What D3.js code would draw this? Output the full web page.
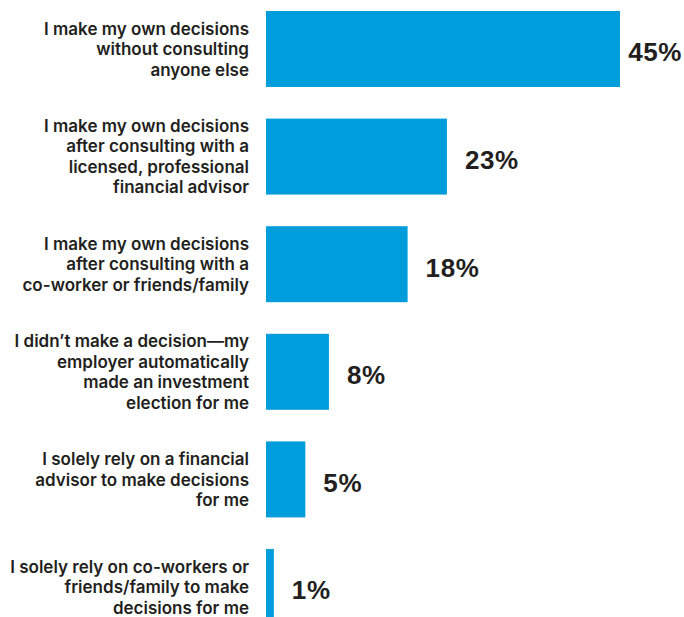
<!DOCTYPE html>
<html>
<head>
<meta charset="utf-8">
<script src="https://cdn.jsdelivr.net/npm/d3@7"></script>
<style>
  html, body { margin: 0; padding: 0; background: #fff; }
  svg { display: block; }
</style>
</head>
<body>
<svg id="chart" width="684" height="617"></svg>
<script>
// How respondents make investment decisions
const categories = [
  ["I make my own decisions", "without consulting", "anyone else"],
  ["I make my own decisions", "after consulting with a", "licensed, professional", "financial advisor"],
  ["I make my own decisions", "after consulting with a", "co-worker or friends/family"],
  ["I didn\u2019t make a decision\u2014my", "employer automatically", "made an investment", "election for me"],
  ["I solely rely on a financial", "advisor to make decisions", "for me"],
  ["I solely rely on co-workers or", "friends/family to make", "decisions for me"]
];
const values = [45, 23, 18, 8, 5, 1];
const valueLabels = ["45%", "23%", "18%", "8%", "5%", "1%"];

const W = 684, H = 617;
const barLeft = 266, labelRight = 249;
const svg = d3.select("#chart");

const x = d3.scaleLinear().domain([0, 45]).range([barLeft, 620]);
const y = d3.scaleBand()
  .domain(d3.range(categories.length))
  .range([11, 625])
  .paddingInner(0.294)
  .paddingOuter(0);

const rows = svg.selectAll("g.row")
  .data(values)
  .join("g")
  .attr("class", "row");

rows.append("rect")
  .attr("x", x(0))
  .attr("y", (d, i) => y(i))
  .attr("width", d => x(d) - x(0))
  .attr("height", y.bandwidth())
  .attr("fill", "#009ddc");

// Category labels, right-aligned and centred on each bar
const lineH = 20.5;
rows.append("text")
  .attr("text-anchor", "end")
  .attr("font-family", "Inter, 'Noto Sans', sans-serif")
  .attr("font-weight", 600)
  .attr("font-size", "17px")
  .attr("fill", "#231f20")
  .each(function(d, i) {
    const lines = categories[i];
    const cy = y(i) + y.bandwidth() / 2;
    const top = cy - (lines.length - 1) * lineH / 2;
    d3.select(this).selectAll("tspan")
      .data(lines)
      .join("tspan")
      .attr("x", labelRight)
      .attr("y", (l, k) => top + k * lineH)
      .attr("dy", "0.36em")
      .text(l => l);
  });

// Value labels
rows.append("text")
  .attr("font-family", "'Liberation Sans', Arial, sans-serif")
  .attr("font-weight", 700)
  .attr("font-size", "26px")
  .attr("letter-spacing", "0.6px")
  .attr("fill", "#231f20")
  .attr("y", (d, i) => y(i) + y.bandwidth() / 2 + 3)
  .attr("dy", "0.36em")
  .text((d, i) => valueLabels[i])
  .attr("x", function(d) {
    const w = this.getComputedTextLength();
    return Math.min(x(d) + 18, W - 2 - w);
  });
</script>
</body>
</html>
